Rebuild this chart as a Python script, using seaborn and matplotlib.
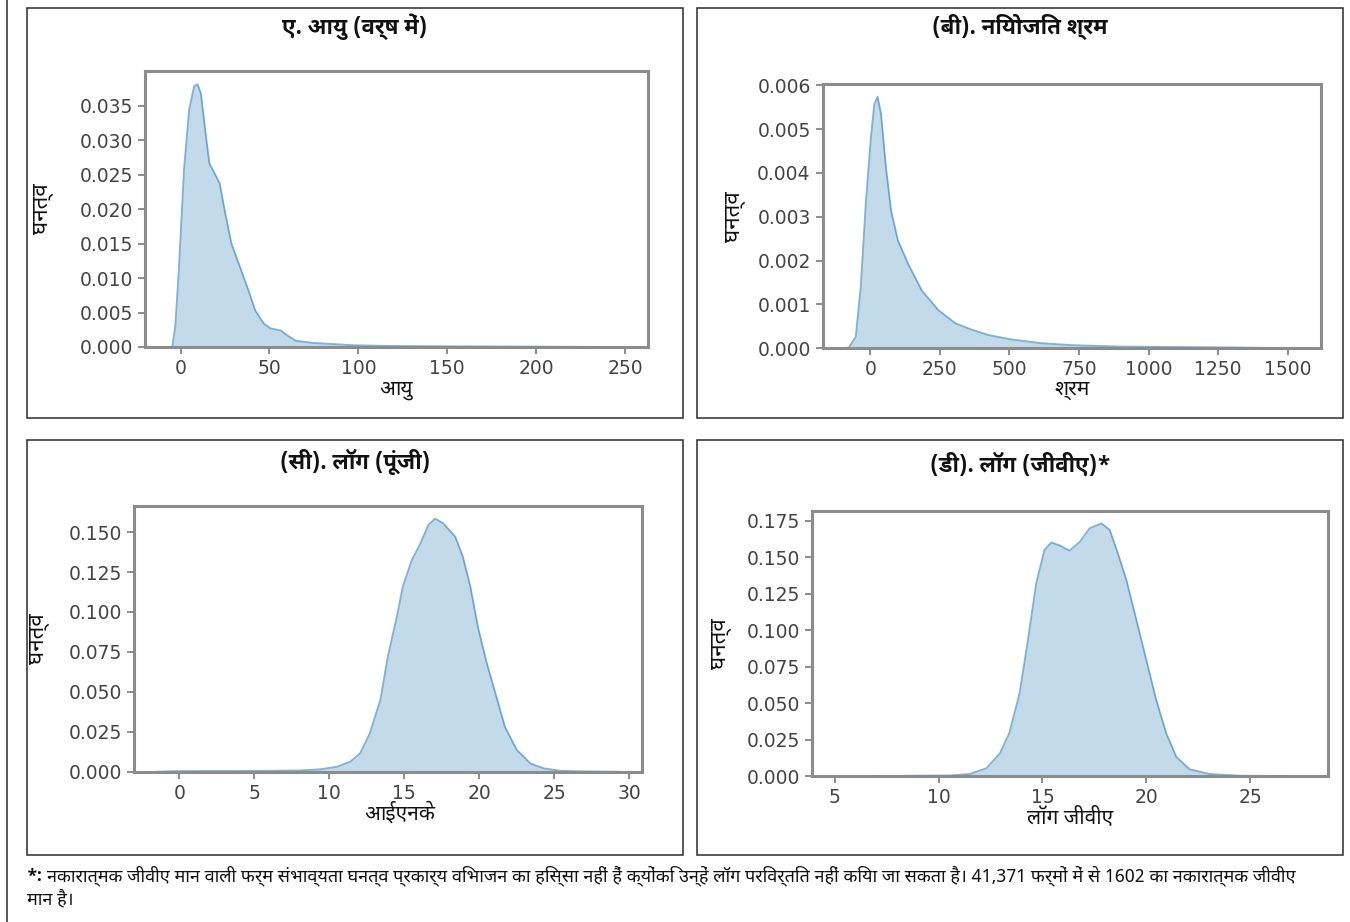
import matplotlib
matplotlib.use("Agg")
import matplotlib.pyplot as plt
import seaborn as sns
from matplotlib.patches import Rectangle
from matplotlib.lines import Line2D
from matplotlib.ticker import FormatStrFormatter

# ---------------- data ----------------
age_x = [-7, -4.7, -3.0, -1.0, 1.9, 4.8, 7.6, 9.5, 11.4, 14.3, 16.2, 19.1, 22.0, 24.8,
         28.6, 33.4, 38.2, 42.0, 46.8, 50.6, 56.3, 61.1, 64.9, 74.5, 87.9, 97.4,
         120, 150, 200, 249.9]
age_y = [0, 0.0, 0.003, 0.0111, 0.0257, 0.0344, 0.0378, 0.0381, 0.0368, 0.0305, 0.0266,
         0.0252, 0.0237, 0.0198, 0.0150, 0.0116, 0.0082, 0.0053, 0.0034, 0.0027, 0.0024,
         0.0015, 0.0009, 0.0006, 0.0004, 0.00025, 0.00015, 0.0001, 0.00005, 0.0]

labour_x = [-90, -76.5, -52, -34, -16, 2.3, 14.5, 26.6, 38.8, 57, 75, 99.5, 136, 185,
            245, 306, 367, 427, 500, 609, 730, 900, 1100, 1300, 1537]
labour_y = [0, 0.00002, 0.000265, 0.0014, 0.0033, 0.0048, 0.00556, 0.00574, 0.00534,
            0.0041, 0.00314, 0.00246, 0.00193, 0.00132, 0.00087, 0.00057, 0.00042,
            0.00030, 0.00021, 0.00012, 0.00007, 0.00004, 0.00003, 0.00002, 0.0]

capital_x = [-1.5, 0, 5, 8.05, 9.38, 10.5, 11.4, 12.05, 12.7, 13.4, 13.9, 14.5, 14.9,
             15.5, 16.05, 16.6, 17.05, 17.6, 18.4, 18.9, 19.4, 19.9, 20.5, 21.2, 21.7,
             22.5, 23.4, 24.3, 25.4, 27, 29.3]
capital_y = [0, 0.0004, 0.0005, 0.0008, 0.0015, 0.0031, 0.0063, 0.0115, 0.024, 0.0449,
             0.072, 0.097, 0.116, 0.1325, 0.1425, 0.1545, 0.1584, 0.1555, 0.147, 0.1346,
             0.116, 0.0908, 0.0678, 0.0449, 0.0282, 0.0136, 0.0052, 0.0021, 0.0006,
             0.0002, 0]

gva_x = [5.04, 8, 10.54, 11.5, 12.3, 12.95, 13.4, 13.9, 14.3, 14.7, 15.1, 15.43, 15.83,
         16.3, 16.8, 17.27, 17.84, 18.24, 18.63, 19.04, 19.52, 20.0, 20.48, 20.96,
         21.44, 22.08, 23.04, 24.5, 27.6]
gva_y = [0, 0.0001, 0.0004, 0.0014, 0.0053, 0.0155, 0.0292, 0.0566, 0.093, 0.132, 0.155,
         0.160, 0.158, 0.1544, 0.1605, 0.1697, 0.1731, 0.1686, 0.1526, 0.1343, 0.107,
         0.0795, 0.052, 0.0292, 0.0132, 0.0046, 0.0014, 0.0002, 0]

age_xticks = [0, 50, 100, 150, 200, 250]
age_yticks = [0.000, 0.005, 0.010, 0.015, 0.020, 0.025, 0.030, 0.035]
labour_xticks = [0, 250, 500, 750, 1000, 1250, 1500]
labour_yticks = [0.000, 0.001, 0.002, 0.003, 0.004, 0.005, 0.006]
capital_xticks = [0, 5, 10, 15, 20, 25, 30]
capital_yticks = [0.000, 0.025, 0.050, 0.075, 0.100, 0.125, 0.150]
gva_xticks = [5, 10, 15, 20, 25]
gva_yticks = [0.000, 0.025, 0.050, 0.075, 0.100, 0.125, 0.150, 0.175]

titles = ["ए. आयु (वर्ष में)", "(बी). नियोजित श्रम", "(सी). लॉग (पूंजी)", "(डी). लॉग (जीवीए)*"]
xlabels = ["आयु", "श्रम", "आईएनके", "लॉग जीवीए"]
ylabel = "घनत्व"
footnote_mark = "*:"
footnote_line1 = ("नकारात्मक जीवीए मान वाली फर्म संभाव्यता घनत्व प्रकार्य विभाजन का हिस्सा नहीं हैं "
                  "क्योंकि उन्हें लॉग परिवर्तित नहीं किया जा सकता है। 41,371 फर्मों में से 1602 का नकारात्मक जीवीए")
footnote_line2 = "मान है।"

# ---------------- figure ----------------
W, H = 1350, 922
DEV = ["Noto Sans Devanagari", "Noto Sans Devanagari UI", "DejaVu Sans"]
DEV_BOLD = ["Noto Sans Devanagari UI", "Noto Sans Devanagari", "DejaVu Sans"]

fig = plt.figure(figsize=(W / 100, H / 100), dpi=100)
fig.patch.set_facecolor("white")

def px_rect(l, t, r, b):
    return [l / W, 1 - b / H, (r - l) / W, (b - t) / H]

panels = [
    dict(ax=px_rect(145.3, 71, 647.7, 347), x=age_x, y=age_y, xt=age_xticks, yt=age_yticks,
         box=(27, 8, 683, 418), title_y=27, ylab_x=43, xlab=(0.5, 389)),
    dict(ax=px_rect(822.5, 84, 1320.8, 348.3), x=labour_x, y=labour_y, xt=labour_xticks, yt=labour_yticks,
         box=(697, 8, 1343, 418), title_y=27, ylab_x=736, xlab=(0.5, 390)),
    dict(ax=px_rect(133.6, 506, 642, 771.7), x=capital_x, y=capital_y, xt=capital_xticks, yt=capital_yticks,
         box=(27, 440, 683, 855), title_y=462, ylab_x=40, xlab=(0.524, 813)),
    dict(ax=px_rect(812, 510.7, 1327.7, 776), x=gva_x, y=gva_y, xt=gva_xticks, yt=gva_yticks,
         box=(697, 440, 1343, 855), title_y=464, ylab_x=721, xlab=(0.5, 818)),
]

C0 = "#1f77b4"
for i, p in enumerate(panels):
    ax = fig.add_axes(p["ax"])
    sns.lineplot(x=p["x"], y=p["y"], ax=ax, color=C0, alpha=0.55, linewidth=1.3,
                 sort=False, estimator=None)
    ax.fill_between(p["x"], 0, p["y"], color=C0, alpha=0.27, linewidth=0)
    ax.set_xticks(p["xt"])
    ax.set_yticks(p["yt"])
    ax.yaxis.set_major_formatter(FormatStrFormatter("%.3f"))
    ax.margins(x=0.05)
    ax.autoscale_view()
    ax.set_ylim(bottom=0)
    for s in ax.spines.values():
        s.set_color("#8c8c8c")
        s.set_linewidth(2.2)
    ax.tick_params(axis="both", colors="#7a7a7a", labelcolor="#444444",
                   labelsize=13.5, length=5, width=1.2, direction="out")
    # axis labels
    l, t, r, b = p["box"]
    axl, axt = p["ax"][0] * W, (1 - p["ax"][1] - p["ax"][3]) * H
    axw, axh = p["ax"][2] * W, p["ax"][3] * H
    ax.set_ylabel(ylabel, family=DEV, fontsize=16, color="#111111")
    ax.yaxis.set_label_coords((p["ylab_x"] - axl) / axw, 0.5)
    ax.yaxis.label.set_va("center")
    ax.set_xlabel(xlabels[i], family=DEV, fontsize=15, color="#111111")
    ax.xaxis.set_label_coords(p["xlab"][0], -(p["xlab"][1] - (axt + axh)) / axh)
    ax.xaxis.label.set_va("center")
    # panel box and title
    fig.add_artist(Rectangle((l / W, 1 - b / H), (r - l) / W, (b - t) / H,
                             transform=fig.transFigure, fill=False,
                             edgecolor="#2b2b2b", linewidth=1.1))
    fig.text((l + r) / 2 / W, 1 - p["title_y"] / H, titles[i], family=DEV_BOLD,
             fontsize=16, fontweight="bold", ha="center", va="center", color="#111111")

# outer left border line
fig.add_artist(Line2D([7 / W, 7 / W], [0, 1], transform=fig.transFigure,
                      color="#2b2b2b", linewidth=1.1))

# footnote
fig.canvas.draw()
renderer = fig.canvas.get_renderer()
mark = fig.text(27 / W, 1 - 876 / H, footnote_mark, family=DEV_BOLD, fontsize=12.5,
                fontweight="bold", ha="left", va="center", color="#111111")
mb = mark.get_window_extent(renderer)
start_px = mb.x1 + 4
line1 = fig.text(start_px / W, 1 - 876 / H, footnote_line1, family=DEV, fontsize=12,
                 ha="left", va="center", color="#111111")
w1 = line1.get_window_extent(renderer).width
target = 1340 - start_px
size = 12 * target / w1
size = max(9.0, min(size, 13.0))
line1.set_fontsize(size)
fig.text(27 / W, 1 - 899 / H, footnote_line2, family=DEV, fontsize=size,
         ha="left", va="center", color="#111111")

fig.savefig("out.png", dpi=100, facecolor="white")
